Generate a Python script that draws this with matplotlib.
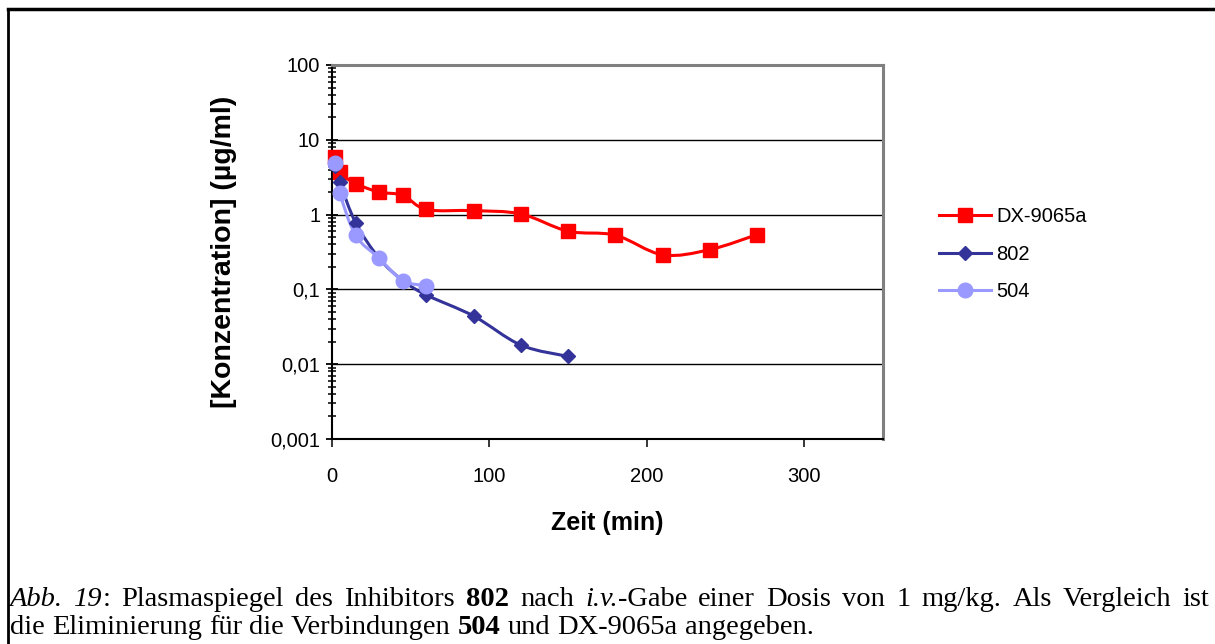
import re
import numpy as np
import matplotlib
matplotlib.use("Agg")
import matplotlib.pyplot as plt
from matplotlib.path import Path
from matplotlib.patches import PathPatch
from matplotlib.lines import Line2D
from matplotlib.ticker import LogLocator, FixedLocator, FuncFormatter

plt.rcParams["font.family"] = ["Liberation Sans", "DejaVu Sans"]

# data (Zeit in min, Konzentration in ug/ml)
t_dx = [2, 5, 15, 30, 45, 60, 90, 120, 150, 180, 210, 240, 270]
c_dx = [5.8, 3.7, 2.6, 2.0, 1.81, 1.17, 1.13, 1.02, 0.60, 0.53, 0.29, 0.34, 0.54]

t_802 = [2, 5, 15, 30, 45, 60, 90, 120, 150]
c_802 = [4.4, 2.7, 0.78, 0.26, 0.131, 0.084, 0.044, 0.018, 0.0127]

t_504 = [2, 5, 15, 30, 45, 60]
c_504 = [4.9, 1.96, 0.53, 0.26, 0.131, 0.112]

series_names = ["DX-9065a", "802", "504"]
x_ticks = [0, 100, 200, 300]
y_ticks = [0.001, 0.01, 0.1, 1, 10, 100]

red = "#FF0000"
navy = "#333399"
lilac = "#9999FF"


def smooth_path(xs, ys):
    # Excel-style smoothed line: cubic bezier through points, built in (x, log y)
    px = np.array(xs, float)
    py = np.log10(np.array(ys, float))
    verts = [(px[0], py[0])]
    codes = [Path.MOVETO]
    n = len(px)
    for i in range(n - 1):
        x0, y0 = (px[i - 1], py[i - 1]) if i > 0 else (px[i], py[i])
        x1, y1 = px[i], py[i]
        x2, y2 = px[i + 1], py[i + 1]
        x3, y3 = (px[i + 2], py[i + 2]) if i + 2 < n else (x2, y2)
        c1 = (x1 + (x2 - x0) / 6.0, y1 + (y2 - y0) / 6.0)
        c2 = (x2 - (x3 - x1) / 6.0, y2 - (y3 - y1) / 6.0)
        verts += [c1, c2, (x2, y2)]
        codes += [Path.CURVE4] * 3
    verts = [(vx, 10 ** vy) for vx, vy in verts]
    return Path(verts, codes)


fig = plt.figure(figsize=(12.15, 6.44), dpi=100)
ax = fig.add_axes([332 / 1215, 1 - 439 / 644, (883 - 332) / 1215, (439 - 65) / 644])

ax.set_yscale("log")
ax.set_xlim(0, 350)
ax.set_ylim(0.001, 100)

ax.yaxis.grid(True, which="major", color="black", lw=1.0)
ax.set_axisbelow(True)

for t, c, col, mk, ms in [(t_dx, c_dx, red, "s", 10.5),
                          (t_802, c_802, navy, "D", 7.5),
                          (t_504, c_504, lilac, "o", 10.5)]:
    ax.add_patch(PathPatch(smooth_path(t, c), fill=False, edgecolor=col, lw=2.2, zorder=3))
    ax.plot(t, c, ls="none", marker=mk, ms=ms, color=col, mec=col, zorder=4, clip_on=False)

ax.xaxis.set_major_locator(FixedLocator(x_ticks))
ax.yaxis.set_major_locator(FixedLocator(y_ticks))
ax.yaxis.set_minor_locator(LogLocator(base=10, subs=np.arange(2, 10)))
ax.yaxis.set_major_formatter(FuncFormatter(lambda v, p: ("%g" % v).replace(".", ",")))
ax.yaxis.set_minor_formatter(FuncFormatter(lambda v, p: ""))

ax.tick_params(axis="y", which="major", direction="inout", length=9, width=1.3, labelsize=14.5, pad=4)
ax.tick_params(axis="y", which="minor", direction="inout", length=6, width=1.1)
ax.tick_params(axis="x", which="major", direction="out", length=6, width=1.1, labelsize=14.5, pad=14)

for s in ["left", "bottom"]:
    ax.spines[s].set_color("black")
    ax.spines[s].set_linewidth(1.5)
for s in ["top", "right"]:
    ax.spines[s].set_color("#808080")
    ax.spines[s].set_linewidth(2.2)

ax.set_xlabel("Zeit (min)", fontsize=18, fontweight="bold", labelpad=18)
ax.set_ylabel("[Konzentration] (µg/ml)", fontsize=20.5, fontweight="bold", labelpad=24)

handles = [Line2D([], [], color=red, lw=2.2, marker="s", ms=10.5),
           Line2D([], [], color=navy, lw=2.2, marker="D", ms=7.5),
           Line2D([], [], color=lilac, lw=2.2, marker="o", ms=10.5)]
fig.legend(handles, series_names, loc="upper left", bbox_to_anchor=(921 / 1215, 1 - 189 / 644),
           frameon=False, fontsize=14.5, handlelength=2.6, handletextpad=0.25, labelspacing=0.92)

# outer frame (only top and left visible)
fig.add_artist(Line2D([8 / 1215, 1.0], [1 - 9 / 644, 1 - 9 / 644], color="black", lw=2.5))
fig.add_artist(Line2D([8 / 1215, 8 / 1215], [0, 1 - 9 / 644], color="black", lw=2.0))

# caption with mixed styles; first line is justified (extra word spacing)
serif = "Liberation Serif"
cap_size = 20.5
lines = [
    ([("Abb. 19", "italic", "normal"), (": Plasmaspiegel des Inhibitors ", "normal", "normal"),
      ("802", "normal", "bold"), (" nach ", "normal", "normal"), ("i.v.", "italic", "normal"),
      ("-Gabe einer Dosis von 1 mg/kg. Als Vergleich ist", "normal", "normal")], 4.0),
    ([("die Eliminierung für die Verbindungen ", "normal", "normal"), ("504", "normal", "bold"),
      (" und DX-9065a angegeben.", "normal", "normal")], 0.0),
]
renderer = fig.canvas.get_renderer()
probe1 = fig.text(0, 0, "x x", fontsize=cap_size, family=serif)
probe2 = fig.text(0, 0, "xx", fontsize=cap_size, family=serif)
space_w = (probe1.get_window_extent(renderer=renderer).width
           - probe2.get_window_extent(renderer=renderer).width)
probe1.remove()
probe2.remove()

for k, (parts, extra) in enumerate(lines):
    x = 10
    y = 606 + k * 28
    for txt, style, weight in parts:
        for tok in re.split(r"( )", txt):
            if tok == "":
                continue
            if tok == " ":
                x += space_w + extra
                continue
            tt = fig.text(x / 1215, 1 - y / 644, tok, fontsize=cap_size, family=serif,
                          style=style, weight=weight, va="baseline", ha="left")
            x += tt.get_window_extent(renderer=renderer).width

fig.savefig("out.png", dpi=100)
